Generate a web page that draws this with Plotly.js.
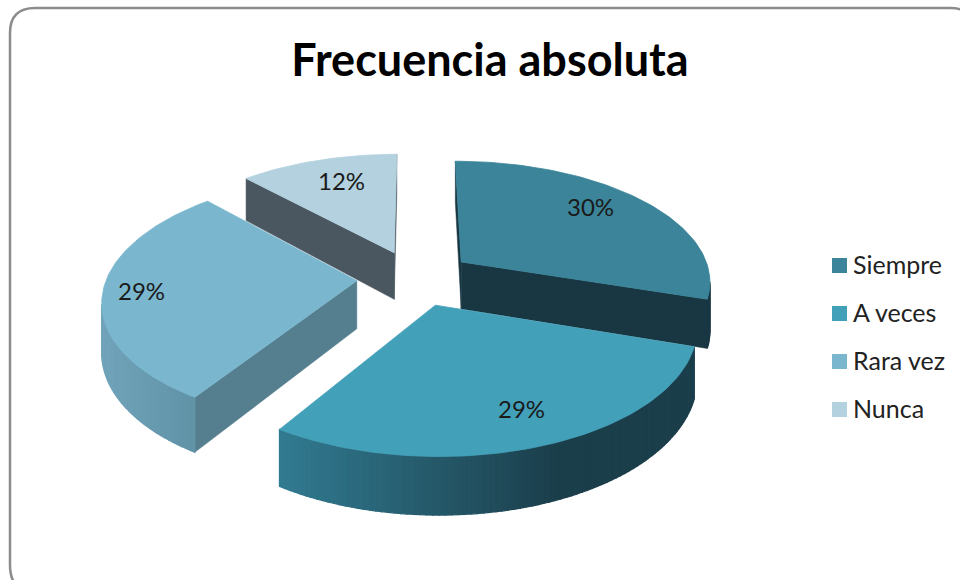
<!DOCTYPE html>
<html><head><meta charset="utf-8">
<script src="https://cdn.plot.ly/plotly-3.0.1.min.js"></script>
<style>html,body{margin:0;padding:0;background:#fff}</style>
</head><body><div id="chart" style="width:960px;height:580px"></div>
<script>
var categories = ["Siempre", "A veces", "Rara vez", "Nunca"];
var values = [30, 29, 29, 12];
var topColors = ["#3B8499", "#43A0B9", "#7AB7CE", "#B3D1DE"];
var faceColors = ["#183743", "#1B3E4B", "#557F8F", "#4B5760"];
var arcLeft = [[24,55,67], [49,122,144], [114,165,187], [75,87,96]];
var arcRight = [[24,55,67], [27,62,75], [96,146,166], [75,87,96]];
var arcSpan = [[600,720], [284,560], [96,200], [240,400]];
var drawOrder = [3, 0, 2, 1];
var labelX = [590, 521, 141, 341];
var labelY = [206, 408, 290, 180];
var legendX = 839.5;
var legendTextX = 853;
var legendY = [265.5, 313.5, 361.5, 409.5];
var legendTextY = [263.5, 311.5, 359.5, 407.5];

// projection of the tilted, exploded pie onto the pixel axes
var cx = 415, cy = 278, ax = 250, ay = 120, persp = 0.148, depth = 48, explode = 0.233;
function project(X, Y, down) {
  var w = 1 + persp * Y;
  return [cx + ax * X / w, cy + (-ay * Y + (down ? depth : 0)) / w];
}
var total = values.reduce(function (a, b) { return a + b; }, 0);
var traces = [];
function quad(pts, color, lw) {
  traces.push({type: "scatter", mode: "lines", fill: "toself", fillcolor: color,
    x: pts.map(function (p) { return p[0]; }).concat([pts[0][0]]),
    y: pts.map(function (p) { return p[1]; }).concat([pts[0][1]]),
    line: {color: color, width: lw}, hoverinfo: "skip", showlegend: false});
}
function signedArea(a, b, c, d) {
  var pts = [a, b, c, d], s = 0;
  for (var i = 0; i < 4; i++) { var p = pts[i], q = pts[(i + 1) % 4]; s += p[0] * q[1] - q[0] * p[1]; }
  return s;
}
var starts = [], acc = 0;
values.forEach(function (v) { starts.push(acc); acc += v; });
drawOrder.forEach(function (i) {
  var t0 = starts[i] / total * 2 * Math.PI, t1 = (starts[i] + values[i]) / total * 2 * Math.PI;
  var mid = (t0 + t1) / 2, ox = explode * Math.sin(mid), oy = explode * Math.cos(mid);
  var n = Math.max(20, Math.round(values[i] * 3)), rim = [];
  for (var k = 0; k <= n; k++) {
    var t = t0 + (t1 - t0) * k / n;
    rim.push([ox + Math.sin(t), oy + Math.cos(t)]);
  }
  var apex = [ox, oy];
  function side(p, q, color, lw) {
    var a = project(p[0], p[1], false), b = project(q[0], q[1], false),
        c = project(q[0], q[1], true), d = project(p[0], p[1], true);
    if (signedArea(a, b, c, d) < 0) quad([a, b, c, d], color, lw);
  }
  // radial walls
  side(apex, rim[0], faceColors[i], 0.5);
  side(rim[n], apex, faceColors[i], 0.5);
  // rim wall, shaded left to right
  for (var k = 0; k < n; k++) {
    var sx = project(rim[k][0], rim[k][1], false)[0];
    var f = Math.min(1, Math.max(0, (sx - arcSpan[i][0]) / (arcSpan[i][1] - arcSpan[i][0])));
    var rgb = arcLeft[i].map(function (c, j) { return Math.round(c + (arcRight[i][j] - c) * f); });
    side(rim[k], rim[k + 1], "rgb(" + rgb.join(",") + ")", 1.2);
  }
  // top face
  var topPts = [project(apex[0], apex[1], false)].concat(rim.map(function (p) { return project(p[0], p[1], false); }));
  quad(topPts, topColors[i], 0.8);
});
// legend swatches
categories.forEach(function (c, i) {
  traces.push({type: "scatter", mode: "markers", name: c, x: [legendX], y: [legendY[i]],
    marker: {symbol: "square", size: 15, color: topColors[i]}, hoverinfo: "skip", showlegend: false});
});
var annotations = categories.map(function (c, i) {
  return {x: labelX[i], y: labelY[i], xref: "x", yref: "y", showarrow: false,
    text: Math.round(values[i] / total * 100) + "%", font: {family: "Lato", size: 24, color: "#1a1a1a"}};
}).concat(categories.map(function (c, i) {
  return {x: legendTextX, y: legendTextY[i], xref: "x", yref: "y", xanchor: "left", xshift: -2, showarrow: false,
    text: c, font: {family: "Lato", size: 25, color: "#222"}};
}));
var layout = {
  width: 960, height: 580, margin: {l: 0, r: 0, t: 0, b: 0},
  paper_bgcolor: "#fff", plot_bgcolor: "#fff",
  title: {text: "Frecuencia absoluta", x: 490 / 960, y: 1 - 60 / 580, xanchor: "center", yanchor: "middle",
    font: {family: "Lato", size: 45, color: "#000", weight: 700}},
  xaxis: {range: [0, 960], visible: false, fixedrange: true},
  yaxis: {range: [580, 0], visible: false, fixedrange: true},
  showlegend: false,
  shapes: [{type: "path", xref: "x", yref: "y", layer: "below",
    path: "M 10 33 Q 10 8 35 8 L 950 8 Q 975 8 975 33 L 975 565 Q 975 592 950 592 L 35 592 Q 10 592 10 565 Z",
    line: {color: "#8c8c8c", width: 2.5}, fillcolor: "#fff"}],
  annotations: annotations
};
Plotly.newPlot("chart", traces, layout, {displayModeBar: false, staticPlot: true});
</script></body></html>
